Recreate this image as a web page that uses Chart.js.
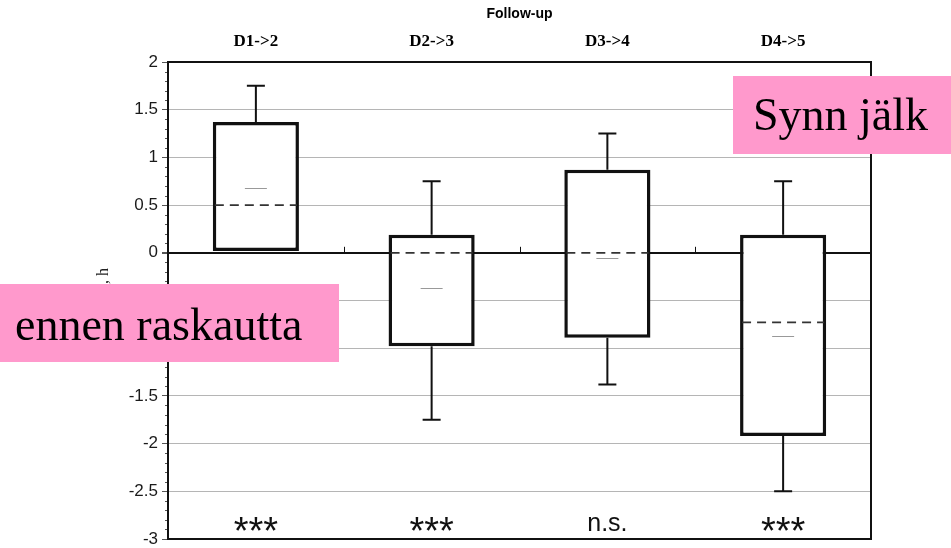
<!DOCTYPE html>
<html>
<head>
<meta charset="utf-8">
<script src="https://cdn.jsdelivr.net/npm/chart.js@4/dist/chart.umd.min.js"></script>
<style>
  body { margin: 0; background: #fff; }
  #wrap { width: 951px; height: 548px; position: relative; }
</style>
</head>
<body>
<div id="wrap"><canvas id="chart"></canvas></div>
<script>
// follow-up intervals
const categories = ['D1->2', 'D2->3', 'D3->4', 'D4->5'];
// box plot values, hours
const whiskerHigh = [1.75, 0.75, 1.25, 0.75];
const boxHigh = [1.37, 0.19, 0.87, 0.19];
const medians = [0.5, 0, 0, -0.73];
const means = [0.68, -0.37, -0.05, -0.87];
const boxLow = [0.02, -0.98, -0.89, -1.92];
const whiskerLow = [0.02, -1.75, -1.38, -2.5];
const significance = ['***', '***', 'n.s.', '***'];

// whiskers, medians, means, frame and the pink captions
const boxExtras = {
  id: 'boxExtras',
  beforeDatasetsDraw(chart) {
    const ctx = chart.ctx, x = chart.scales.x, y = chart.scales.y;
    ctx.save();
    ctx.strokeStyle = '#111';
    ctx.lineWidth = 2;
    categories.forEach((c, i) => {
      const px = x.getPixelForValue(i);
      [[boxHigh[i], whiskerHigh[i]], [boxLow[i], whiskerLow[i]]].forEach(([a, b]) => {
        if (a === b) return;
        ctx.beginPath();
        ctx.moveTo(px, y.getPixelForValue(a));
        ctx.lineTo(px, y.getPixelForValue(b));
        ctx.moveTo(px - 9, y.getPixelForValue(b));
        ctx.lineTo(px + 9, y.getPixelForValue(b));
        ctx.stroke();
      });
    });
    ctx.restore();
  },
  afterDatasetsDraw(chart) {
    const ctx = chart.ctx, x = chart.scales.x, y = chart.scales.y;
    const area = chart.chartArea;
    const meta = chart.getDatasetMeta(0);
    ctx.save();
    categories.forEach((c, i) => {
      const bar = meta.data[i];
      const half = bar.width / 2 - 2;
      const px = x.getPixelForValue(i);
      // median
      ctx.setLineDash([9, 6]);
      ctx.strokeStyle = '#333';
      ctx.lineWidth = 1.7;
      ctx.beginPath();
      const my = y.getPixelForValue(medians[i]);
      ctx.moveTo(px - half, my);
      ctx.lineTo(px + half, my);
      ctx.stroke();
      ctx.setLineDash([]);
      // mean
      ctx.strokeStyle = '#999';
      ctx.lineWidth = 1;
      const ay = Math.round(y.getPixelForValue(means[i])) + 0.5;
      ctx.beginPath();
      ctx.moveTo(px - 11, ay);
      ctx.lineTo(px + 11, ay);
      ctx.stroke();
      // significance
      ctx.fillStyle = '#111';
      ctx.textAlign = 'center';
      ctx.textBaseline = 'alphabetic';
      if (significance[i] === 'n.s.') {
        ctx.font = '25px "Liberation Sans", Arial, sans-serif';
        ctx.fillText(significance[i], px, y.getPixelForValue(-2.92));
      } else {
        ctx.font = '38px "Liberation Sans", Arial, sans-serif';
        ctx.fillText(significance[i], px, y.getPixelForValue(-3.05));
      }
    });
    // ticks on the zero line between categories
    ctx.strokeStyle = '#111';
    ctx.lineWidth = 1;
    const zy = y.getPixelForValue(0);
    for (let i = 0; i < categories.length - 1; i++) {
      const bx = Math.round((x.getPixelForValue(i) + x.getPixelForValue(i + 1)) / 2) + 0.5;
      ctx.beginPath();
      ctx.moveTo(bx, zy);
      ctx.lineTo(bx, zy - 6);
      ctx.stroke();
    }
    // minor ticks on the left axis
    ctx.strokeStyle = '#555';
    for (let v = -30; v <= 20; v++) {
      if (v % 5 === 0) continue;
      const ty = Math.round(y.getPixelForValue(v / 10)) + 0.5;
      ctx.beginPath();
      ctx.moveTo(area.left - 3, ty);
      ctx.lineTo(area.left, ty);
      ctx.stroke();
    }
    // frame
    ctx.strokeStyle = '#111';
    ctx.lineWidth = 2;
    ctx.strokeRect(area.left, area.top, area.right - area.left, area.bottom - area.top);
    ctx.restore();
  },
  afterDraw(chart) {
    const ctx = chart.ctx;
    ctx.save();
    ctx.fillStyle = '#ff99cc';
    ctx.fillRect(733, 76, 218, 78);
    ctx.fillRect(0, 284, 339, 78);
    ctx.fillStyle = '#000';
    ctx.font = '46px "Liberation Serif", "Times New Roman", serif';
    ctx.textBaseline = 'alphabetic';
    ctx.textAlign = 'left';
    ctx.fillText('Synn jälk', 753, 130);
    ctx.fillText('ennen raskautta', 15, 340);
    ctx.restore();
  }
};

new Chart(document.getElementById('chart'), {
  type: 'bar',
  data: {
    labels: categories,
    datasets: [{
      data: categories.map((c, i) => [boxLow[i], boxHigh[i]]),
      backgroundColor: '#fff',
      borderColor: '#111',
      borderWidth: 3.5,
      borderSkipped: false,
      barPercentage: 0.49,
      categoryPercentage: 1
    }]
  },
  options: {
    responsive: true,
    maintainAspectRatio: false,
    animation: false,
    layout: { padding: { right: 80, bottom: 9 } },
    plugins: { legend: { display: false }, tooltip: { enabled: false } },
    scales: {
      x: {
        position: 'top',
        offset: true,
        grid: { display: false, drawTicks: false },
        border: { display: false },
        ticks: {
          padding: 10,
          color: '#000',
          font: { family: '"Liberation Serif", "Times New Roman", serif', size: 17, weight: 'bold' }
        },
        title: {
          display: true,
          text: 'Follow-up',
          color: '#000',
          padding: { top: 6, bottom: 0 },
          font: { family: '"Liberation Sans", Arial, sans-serif', size: 14, weight: 'bold' }
        },
        afterFit(s) { s.height = 62; }
      },
      y: {
        min: -3,
        max: 2,
        ticks: {
          stepSize: 0.5,
          padding: 4,
          color: '#1a1a1a',
          font: { family: '"Liberation Sans", Arial, sans-serif', size: 17 },
          callback: v => String(+v.toFixed(1))
        },
        grid: {
          color: ctx => ctx.tick && ctx.tick.value === 0 ? '#111' : '#b5b5b5',
          lineWidth: ctx => ctx.tick && ctx.tick.value === 0 ? 2 : 1,
          tickColor: '#555',
          tickLength: 6
        },
        border: { display: true, color: '#111', width: 2 },
        title: {
          display: true,
          text: 'Change, h',
          color: '#222',
          padding: { top: 94, bottom: 0 },
          font: { family: '"Liberation Serif", "Times New Roman", serif', size: 16 }
        },
        afterFit(s) {
          s.width = 168;
          s.paddingTop = 0;
          s.paddingBottom = 0;
        }
      }
    }
  },
  plugins: [boxExtras]
});
</script>
</body>
</html>
